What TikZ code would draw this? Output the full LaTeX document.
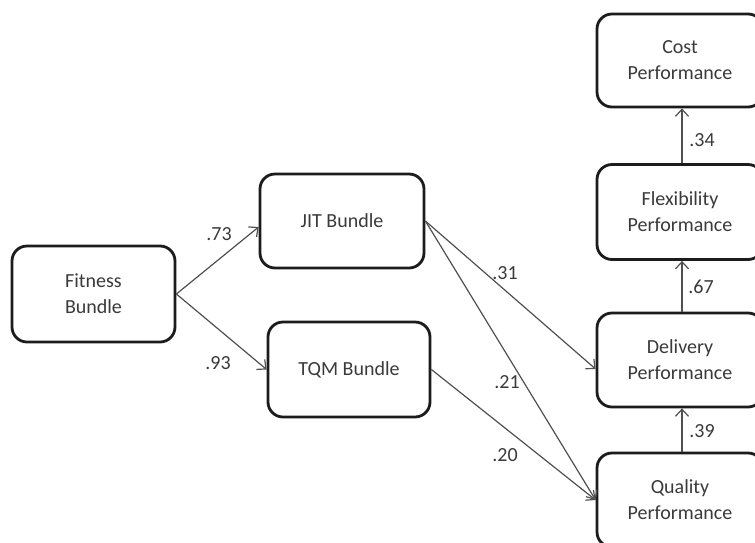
\documentclass[tikz,border=0pt]{standalone}
\usepackage{fontspec}
\setmainfont{Carlito}
\usetikzlibrary{arrows.meta}
\definecolor{txt}{HTML}{3A3A3A}
\definecolor{brd}{HTML}{1C1C1C}
\definecolor{lnk}{HTML}{505050}
\begin{document}
\begin{tikzpicture}[x=1pt,y=-1pt,
  box/.style={draw=brd,line width=2.8pt,rounded corners=15pt,align=center,
    text=txt,font=\fontsize{20}{26}\selectfont,inner sep=0pt},
  arr/.style={draw=lnk,line width=1.2pt,-{Straight Barb[length=7pt,width=13pt,line width=1.2pt]}},
  lab/.style={text=txt,font=\fontsize{20}{24}\selectfont,inner sep=0pt}]
\useasboundingbox (0,0) rectangle (755,542);
\fill[white] (0,0) rectangle (755,542);
\node[box,minimum width=163pt,minimum height=96pt] (fit) at (93.5,294) {Fitness\\Bundle};
\node[box,minimum width=164pt,minimum height=94pt] (jit) at (342,221) {JIT Bundle};
\node[box,minimum width=162pt,minimum height=95pt] (tqm) at (349,369.5) {TQM Bundle};
\node[box,minimum width=166pt,minimum height=93pt] (cost) at (680,60.5) {Cost\\Performance};
\node[box,minimum width=166pt,minimum height=95pt] (flex) at (680,212) {Flexibility\\Performance};
\node[box,minimum width=166pt,minimum height=94pt] (del) at (680,360) {Delivery\\Performance};
\node[box,minimum width=166pt,minimum height=94pt] (qual) at (680,500) {Quality\\Performance};
\draw[arr] (fit.east) -- ([yshift=-6pt]jit.west);
\draw[arr] (fit.east) -- (tqm.west);
\draw[arr] (jit.east) -- ([yshift=-9pt]del.west);
\draw[arr] (jit.east) -- (qual.west);
\draw[arr] (tqm.east) -- (qual.west);
\draw[arr] ([xshift=2pt]del.north) -- ([xshift=2pt]flex.south);
\draw[arr] ([xshift=2pt]qual.north) -- ([xshift=2pt]del.south);
\draw[arr] ([xshift=2pt]flex.north) -- ([xshift=2pt]cost.south);
\node[lab] (l73) at (219,234) {.73};
\node[lab] (l93) at (218,363) {.93};
\node[lab] (l31) at (505,273) {.31};
\node[lab] (l21) at (507,382) {.21};
\node[lab] (l20) at (505,455) {.20};
\node[lab] (l67) at (701,287) {.67};
\node[lab] (l39) at (702,431) {.39};
\node[lab] (l34) at (702,140) {.34};
\end{tikzpicture}
\end{document}
